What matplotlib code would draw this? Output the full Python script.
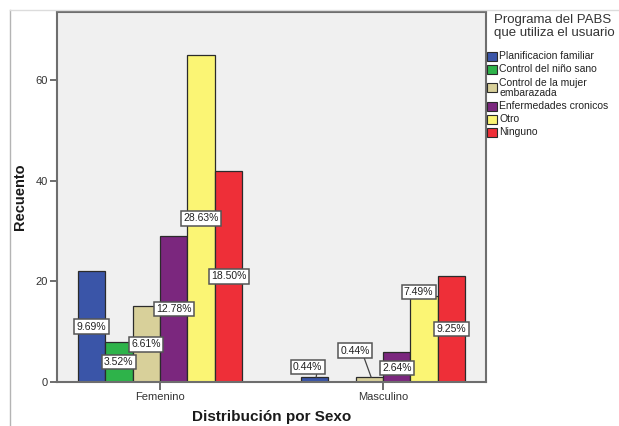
import numpy as np
import matplotlib
matplotlib.use("Agg")
import matplotlib.pyplot as plt
from matplotlib.patches import Rectangle
from matplotlib.lines import Line2D

plt.rcParams['font.family'] = ['Liberation Sans', 'DejaVu Sans']

# counts per programme and sex
sexos = ['Femenino', 'Masculino']
programas = ['Planificacion familiar', 'Control del niño sano',
             'Control de la mujer\nembarazada', 'Enfermedades cronicos',
             'Otro', 'Ninguno']
femenino = [22, 8, 15, 29, 65, 42]
masculino = [1, 0, 1, 6, 17, 21]
colores = ['#3a55a8', '#2eb34a', '#d8d09a', '#7b277e', '#fbf574', '#ee2f38']

total = sum(femenino) + sum(masculino)
conteos = np.array([femenino, masculino])

fig = plt.figure(figsize=(6.19, 4.26), dpi=100)
W, H = 619, 426

# outer frame lines
fig.add_artist(Line2D([10 / W, 10 / W], [0, 1 - 10 / H], color='#b4b4b4', lw=1))
fig.add_artist(Line2D([10 / W, 1], [1 - 10 / H, 1 - 10 / H], color='#dcdcdc', lw=1))

ax = fig.add_axes([57 / W, (H - 382) / H, (486 - 57) / W, (382 - 12) / H])
ax.set_facecolor('#f0f0f0')

ancho = 0.123
x = np.arange(len(sexos))
for i, prog in enumerate(programas):
    pos = x + (i - 2.5) * ancho
    ax.bar(pos, conteos[:, i], width=ancho, color=colores[i],
           edgecolor='#2b2b2b', linewidth=0.9, zorder=2)

# percentage labels; a few small bars get their label moved
ajustes = {(1, 0): (-0.03, 3.0), (1, 2): (-0.063, 6.2),
           (1, 3): (0.0, 2.8), (1, 4): (-0.025, 17.9)}
caja = dict(boxstyle='square,pad=0.22', fc='white', ec='#555555', lw=1.1)
for g in range(len(sexos)):
    for i in range(len(programas)):
        n = conteos[g, i]
        if n == 0:
            continue
        xc = x[g] + (i - 2.5) * ancho
        dx, y = ajustes.get((g, i), (0.0, n / 2))
        ax.text(xc + dx, y, f'{n / total * 100:.2f}%', ha='center', va='center',
                fontsize=7.5, color='#222222', bbox=caja, zorder=4)
        if (g, i) in ajustes and y > n + 1:
            ax.plot([xc + dx + 0.04, xc + 0.008], [y - 1.4, n], color='#444444',
                    lw=0.9, zorder=3)
        elif (g, i) == (1, 0):
            ax.plot([xc + dx + 0.01, xc + dx + 0.01], [y - 1.4, n], color='#444444',
                    lw=0.9, zorder=3)

ax.set_xlim(-0.462, 1.462)
ax.set_ylim(0, 73.5)
ax.set_yticks([0, 20, 40, 60])
ax.set_xticks(x)
ax.set_xticklabels(sexos)
ax.tick_params(axis='both', labelsize=8, colors='#555555', labelcolor='#333333',
               width=1.2, pad=1.5)
ax.tick_params(axis='y', length=5)
ax.tick_params(axis='x', length=6)
for s in ax.spines.values():
    s.set_color('#6e6e6e')
    s.set_linewidth(1.5)

ax.set_ylabel('Recuento', fontsize=10.5, fontweight='bold', color='#1a1a1a', labelpad=6)
ax.set_xlabel('Distribución por Sexo', fontsize=11, fontweight='bold', color='#1a1a1a')
ax.xaxis.set_label_coords(0.5, (382 - 410) / 370)

# legend drawn by hand: title, then one swatch per programme
fig.text(494 / W, 1 - 20 / H, 'Programa del PABS', fontsize=9.5, color='#333333',
         ha='left', va='center')
fig.text(494 / W, 1 - 33 / H, 'que utiliza el usuario', fontsize=9.5, color='#333333',
         ha='left', va='center')
fila = 56
for c, prog in zip(colores, programas):
    lineas = prog.count('\n') + 1
    yc = fila + (lineas - 1) * 11 / 2
    fig.add_artist(Rectangle((487 / W, 1 - (yc + 4.5) / H), 10 / W, 9 / H,
                             facecolor=c, edgecolor='#2b2b2b', lw=0.8,
                             transform=fig.transFigure))
    fig.text(499 / W, 1 - yc / H, prog, fontsize=7.5, color='#222222',
             ha='left', va='center', linespacing=1.0)
    fila += 13 + (lineas - 1) * 11

fig.savefig('out.png', dpi=100, facecolor='white')
